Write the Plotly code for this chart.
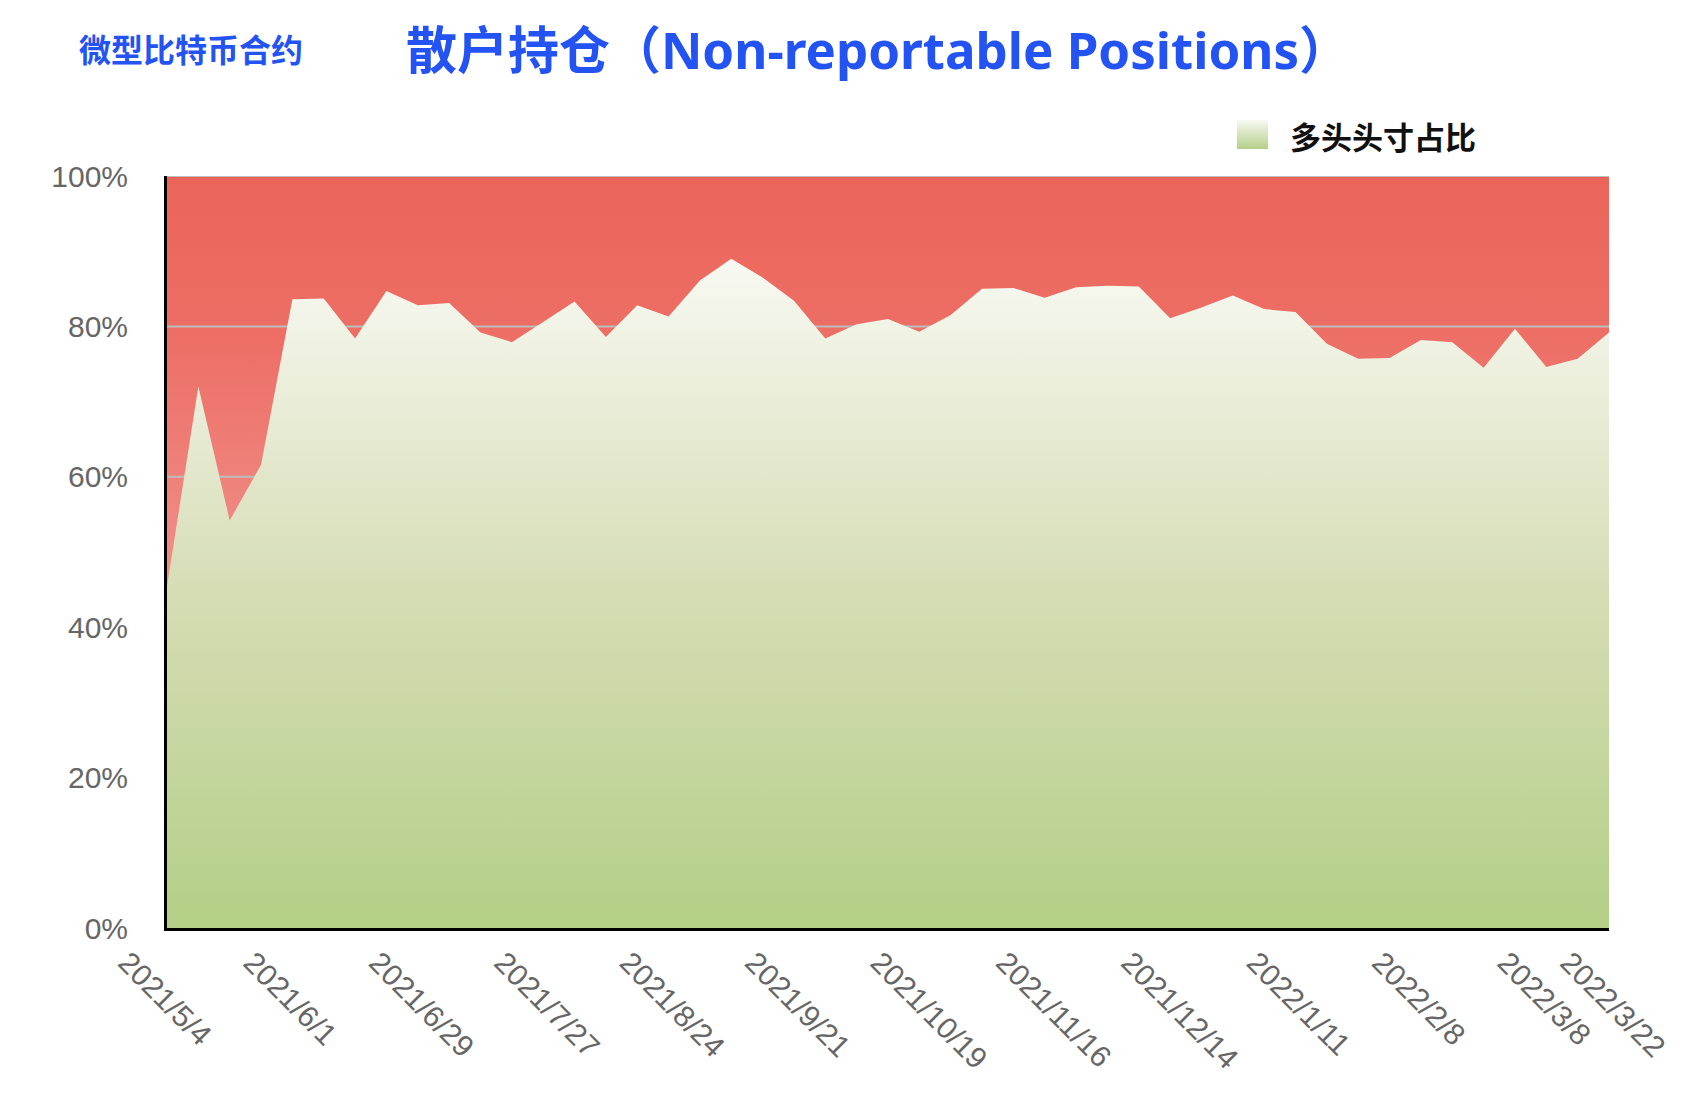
import datetime as dt
import base64
import plotly.graph_objects as go

# ---------------- data ----------------
start_date = dt.date(2021, 5, 4)
dates = [start_date + dt.timedelta(weeks=i) for i in range(47)]
categories = [f"{d.year}/{d.month}/{d.day}" for d in dates]

# 多头头寸占比 (%)
long_pct = [45.4, 72.0, 54.2, 61.6, 83.6, 83.7, 78.4, 84.7, 82.8, 83.1,
            79.2, 77.9, 80.6, 83.3, 78.6, 82.8, 81.3, 86.1, 89.0, 86.5,
            83.4, 78.4, 80.3, 81.0, 79.3, 81.5, 85.0, 85.1, 83.8, 85.2,
            85.4, 85.3, 81.1, 82.5, 84.1, 82.3, 81.9, 77.7, 75.7, 75.8,
            78.2, 77.9, 74.5, 79.7, 74.6, 75.7, 79.2]
# 空头头寸占比 (%) – complement of the long share
short_pct = [round(100 - v, 1) for v in long_pct]

tick_labels = ["2021/5/4", "2021/6/1", "2021/6/29", "2021/7/27", "2021/8/24",
               "2021/9/21", "2021/10/19", "2021/11/16", "2021/12/14",
               "2022/1/11", "2022/2/8", "2022/3/8", "2022/3/22"]
y_ticks = [0, 20, 40, 60, 80, 100]
y_tick_text = ["0%", "20%", "40%", "60%", "80%", "100%"]

title_text = "散户持仓（Non-reportable Positions）"
subtitle_text = "微型比特币合约"
legend_text = "多头头寸占比"

# ---------------- layout constants ----------------
W, H = 1690, 1096
ML, MR, MT, MB = 167, 81, 176, 168
PW, PH = W - ML - MR, H - MT - MB


def px2paper_x(px):
    return (px - ML) / PW


def px2paper_y(py):
    return (H - MB - py) / PH


BLUE = "#2353F2"
GRID = "#BDBDBD"

fig = go.Figure()

# red area (short share stacked on top of long share)
total = [l + s for l, s in zip(long_pct, short_pct)]
fig.add_trace(go.Scatter(
    x=categories, y=total, mode="lines", line=dict(width=0),
    fill="tozeroy",
    fillgradient=dict(type="vertical", start=45, stop=100,
                      colorscale=[[0, "#F0918B"], [0.6, "#ED6F66"], [1, "#EB6459"]]),
    showlegend=False, hoverinfo="skip", name="空头头寸占比"))

# grid lines (drawn above red area, below green area)
gx, gy = [], []
for v in y_ticks[1:]:
    gx += [categories[0], categories[-1], None]
    gy += [v, v, None]
fig.add_trace(go.Scatter(x=gx, y=gy, mode="lines",
                         line=dict(color=GRID, width=2),
                         showlegend=False, hoverinfo="skip"))

# green area (long share)
fig.add_trace(go.Scatter(
    x=categories, y=long_pct, mode="lines", line=dict(width=0),
    fill="tozeroy",
    fillgradient=dict(type="vertical", start=0, stop=89,
                      colorscale=[[0, "#B3CF87"], [0.5, "#D6DDB5"], [1, "#F8F9F2"]]),
    showlegend=False, name=legend_text))

fig.update_layout(
    width=W, height=H,
    margin=dict(l=ML, r=MR, t=MT, b=MB),
    paper_bgcolor="white", plot_bgcolor="white",
    showlegend=False,
    title=dict(text=title_text, x=878 / W, xanchor="center", xref="container",
               y=1 - 51 / H, yanchor="middle", yref="container",
               font=dict(family="Noto Sans, Noto Sans CJK SC", size=51,
                         color=BLUE, weight="bold")),
    xaxis=dict(type="category", range=[0, len(categories) - 1],
               tickvals=tick_labels, ticktext=tick_labels,
               tickangle=45, showgrid=False, zeroline=False,
               showline=True, linecolor="black", linewidth=3,
               ticks="", tickfont=dict(family="Liberation Sans", size=30, color="#666666"),
               ticklabelshift=-40, ticklabelstandoff=2),
    yaxis=dict(range=[0, 100], tickvals=y_ticks, ticktext=y_tick_text,
               showgrid=False, zeroline=False,
               showline=True, linecolor="black", linewidth=3,
               ticks="", tickfont=dict(family="Liberation Sans", size=30, color="#666666"),
               ticklabelstandoff=30),
)

# subtitle
fig.add_annotation(text=subtitle_text, xref="paper", yref="paper",
                   x=px2paper_x(77), y=px2paper_y(48), xanchor="left", yanchor="middle",
                   showarrow=False,
                   font=dict(family="Noto Sans CJK SC", size=32, color=BLUE, weight="bold"))

# legend (manual: gradient swatch + label)
svg = ('<svg xmlns="http://www.w3.org/2000/svg" width="31" height="29">'
       '<defs><linearGradient id="g" x1="0" y1="0" x2="0" y2="1">'
       '<stop offset="0" stop-color="#F8F9F2"/><stop offset="1" stop-color="#B3CF87"/>'
       '</linearGradient></defs><rect width="31" height="29" fill="url(#g)"/></svg>')
src = "data:image/svg+xml;base64," + base64.b64encode(svg.encode()).decode()
fig.add_layout_image(source=src, xref="paper", yref="paper",
                     x=px2paper_x(1237), y=px2paper_y(120),
                     sizex=31 / PW, sizey=29 / PH, sizing="stretch",
                     xanchor="left", yanchor="top", layer="above")
fig.add_annotation(text=legend_text, xref="paper", yref="paper",
                   x=px2paper_x(1288), y=px2paper_y(135), xanchor="left", yanchor="middle",
                   showarrow=False,
                   font=dict(family="Noto Sans CJK SC", size=31, color="#111111", weight="bold"))

fig.write_html("out.html", include_plotlyjs=True,
               config={"displayModeBar": False},
               post_script="document.body.style.margin='0';")
